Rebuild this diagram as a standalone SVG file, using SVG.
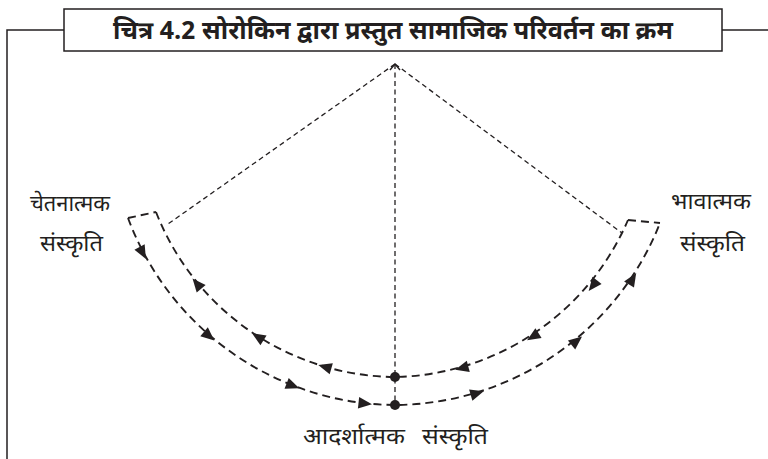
<svg xmlns="http://www.w3.org/2000/svg" xmlns:xlink="http://www.w3.org/1999/xlink" width="768" height="459" viewBox="0 0 768 459">
<style>
.frame{fill:none;stroke:#231f20;stroke-width:1.5}
.band{fill:none;stroke:#231f20;stroke-width:1.9;stroke-dasharray:8 5}
.thin{fill:none;stroke:#231f20;stroke-width:1.3;stroke-dasharray:5 3.5}
.lbl{font-family:"Noto Sans Devanagari","Lohit Devanagari","Noto Sans",sans-serif;font-size:23px;fill:#231f20;text-anchor:middle}
.title{font-family:"Noto Sans Devanagari","Lohit Devanagari","Noto Sans",sans-serif;font-size:25px;font-weight:bold;fill:#231f20;text-anchor:middle}
</style>
<defs>
<polygon id="ah" points="7,0 -6.5,-5.8 -6.5,5.8" fill="#231f20"/>
</defs>
<rect width="768" height="459" fill="#fff"/>
<g id="frame">
<polyline class="frame" points="7,459 7,30 64,30"/>
<line class="frame" x1="722" y1="30" x2="768" y2="30"/>
</g>
<g id="title">
<rect x="64" y="9" width="658" height="42" fill="#fff" stroke="#231f20" stroke-width="1.5"/>
<text class="title" x="393" y="39" textLength="560" lengthAdjust="spacingAndGlyphs">चित्र 4.2 सोरोकिन द्वारा प्रस्तुत सामाजिक परिवर्तन का क्रम</text>
</g>
<g id="connectors">
<line class="thin" x1="395" y1="64" x2="168" y2="224"/>
<line class="thin" x1="395" y1="64" x2="622" y2="233"/>
<line class="thin" x1="395" y1="64" x2="395" y2="405"/>
<polyline fill="none" stroke="#231f20" stroke-width="1.4" points="390,70 395,64 400,70"/>
<path class="band" d="M156,212 A259 259 0 0 0 395,377 A259 259 0 0 0 628,220"/>
<path class="band" d="M128,218 A287 287 0 0 0 395,405 A287 287 0 0 0 660,223"/>
<line class="band" x1="128" y1="218" x2="156" y2="212"/>
<line class="band" x1="628" y1="220" x2="660" y2="223"/>
<use xlink:href="#ah" transform="translate(142.6,252.7) rotate(62)"/>
<use xlink:href="#ah" transform="translate(209,336) rotate(40.6)"/>
<use xlink:href="#ah" transform="translate(292.7,385.8) rotate(21.1)"/>
<use xlink:href="#ah" transform="translate(365,403.5) rotate(6.2)"/>
<use xlink:href="#ah" transform="translate(477,393.3) rotate(-16.4)"/>
<use xlink:href="#ah" transform="translate(576.6,341) rotate(-39)"/>
<use xlink:href="#ah" transform="translate(632.5,279) rotate(-58)"/>
<use xlink:href="#ah" transform="translate(197,283.8) rotate(230.2)"/>
<use xlink:href="#ah" transform="translate(258,337) rotate(212.2)"/>
<use xlink:href="#ah" transform="translate(325,367) rotate(195.9)"/>
<use xlink:href="#ah" transform="translate(462,368) rotate(165.2)"/>
<use xlink:href="#ah" transform="translate(533,336.5) rotate(147.9)"/>
<use xlink:href="#ah" transform="translate(593,285.5) rotate(128)"/>
</g>
<g id="node-ideational">
<circle cx="395" cy="377" r="5" fill="#231f20"/>
<circle cx="395" cy="405" r="5" fill="#231f20"/>
<text class="lbl" x="354" y="444" textLength="102" lengthAdjust="spacingAndGlyphs">आदर्शात्मक</text>
<text class="lbl" x="455" y="444" textLength="66" lengthAdjust="spacingAndGlyphs">संस्कृति</text>
</g>
<g id="node-sensate">
<text class="lbl" x="70" y="211" textLength="80" lengthAdjust="spacingAndGlyphs">चेतनात्मक</text>
<text class="lbl" x="71.5" y="251" textLength="63" lengthAdjust="spacingAndGlyphs">संस्कृति</text>
</g>
<g id="node-ideational-right">
<text class="lbl" x="711" y="209" textLength="80" lengthAdjust="spacingAndGlyphs">भावात्मक</text>
<text class="lbl" x="712.5" y="251" textLength="65" lengthAdjust="spacingAndGlyphs">संस्कृति</text>
</g>
</svg>
